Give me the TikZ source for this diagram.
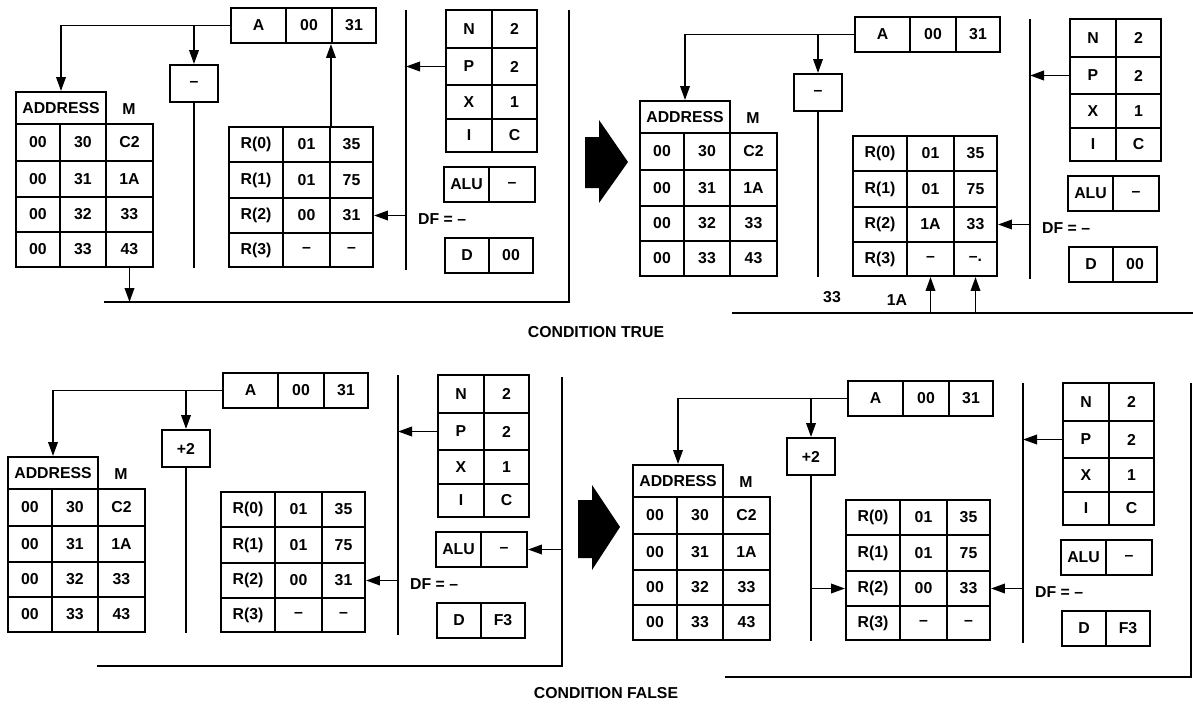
\documentclass[tikz,border=0pt]{standalone}
\usepackage{fontspec}
\setmainfont{Liberation Sans}
\usetikzlibrary{arrows.meta}

\tikzset{
	cellbox/.style={draw, line width=1.1pt, inner sep=0pt},
	wire/.style={line width=1.1pt},
	arr/.style={wire, -{Triangle[length=2.8mm,width=1.9mm]}},
	bus/.style={line width=1.5pt},
}

% one box of a register or table: name, x1, y1, x2, y2, text
\newcommand{\regcell}[6]{%
	\node[cellbox, minimum width={(#4-#2)*0.02cm}, minimum height={(#5-#3)*0.02cm}]
		(#1) at ({(#2+#4)/2},{(#3+#5)/2}) {#6};}

% one machine state: prefix, shift x, shift y, operation, R(2) hi, R(2) lo, R(3) lo, D
\newcommand{\cpustate}[8]{%
	\begin{scope}[shift={(#2,#3)}]
		\regcell{#1aa}{231}{8}{286}{43}{A}
		\regcell{#1ab}{286}{8}{332}{43}{00}
		\regcell{#1ac}{332}{8}{376}{43}{31}
		\regcell{#1op}{170}{65}{218}{102}{#4}
		\coordinate (#1opend) at (194,268);
		% memory
		\regcell{#1hd}{16}{92}{106}{124}{ADDRESS}
		\node (#1m) at (129,109) {M};
		\regcell{#1m0a}{16}{124}{60}{161}{00}
		\regcell{#1m0b}{60}{124}{106}{161}{30}
		\regcell{#1m0c}{106}{124}{153}{161}{C2}
		\regcell{#1m1a}{16}{161}{60}{197}{00}
		\regcell{#1m1b}{60}{161}{106}{197}{31}
		\regcell{#1m1c}{106}{161}{153}{197}{1A}
		\regcell{#1m2a}{16}{197}{60}{232}{00}
		\regcell{#1m2b}{60}{197}{106}{232}{32}
		\regcell{#1m2c}{106}{197}{153}{232}{33}
		\regcell{#1m3a}{16}{232}{60}{267}{00}
		\regcell{#1m3b}{60}{232}{106}{267}{33}
		\regcell{#1m3c}{106}{232}{153}{267}{43}
		% registers
		\regcell{#1r0a}{229}{127}{283}{162}{R(0)}
		\regcell{#1r0b}{283}{127}{330}{162}{01}
		\regcell{#1r0c}{330}{127}{373}{162}{35}
		\regcell{#1r1a}{229}{162}{283}{198}{R(1)}
		\regcell{#1r1b}{283}{162}{330}{198}{01}
		\regcell{#1r1c}{330}{162}{373}{198}{75}
		\regcell{#1r2a}{229}{198}{283}{233}{R(2)}
		\regcell{#1r2b}{283}{198}{330}{233}{#5}
		\regcell{#1r2c}{330}{198}{373}{233}{#6}
		\regcell{#1r3a}{229}{233}{283}{267}{R(3)}
		\regcell{#1r3b}{283}{233}{330}{267}{--}
		\regcell{#1r3c}{330}{233}{373}{267}{#7}
		% N P X I
		\regcell{#1na}{446}{10}{492}{48}{N}
		\regcell{#1nb}{492}{10}{537}{48}{2}
		\regcell{#1pa}{446}{48}{492}{85}{P}
		\regcell{#1pb}{492}{48}{537}{85}{2}
		\regcell{#1xa}{446}{85}{492}{119}{X}
		\regcell{#1xb}{492}{85}{537}{119}{1}
		\regcell{#1ia}{446}{119}{492}{152}{I}
		\regcell{#1ib}{492}{119}{537}{152}{C}
		\regcell{#1alua}{444}{167}{489}{202}{ALU}
		\regcell{#1alub}{489}{167}{535}{202}{--}
		\node[anchor=west] (#1df) at (412,219) {DF = --};
		\regcell{#1da}{445}{238}{489}{273}{D}
		\regcell{#1db}{489}{238}{533}{273}{#8}
		% bus
		\coordinate (#1bt) at (406,10);
		\coordinate (#1bb) at (406,270);
		\draw[bus] (#1bt) -- (#1bb);
		\draw[arr] (#1aa.west) -| (#1hd.north);
		\draw[arr] (#1aa.west -| #1op.north) -- (#1op.north);
		\draw[wire] (#1op.south) -- (#1opend);
		\draw[arr] (#1pa.west) -- (#1pa.west -| #1bt);
		\draw[arr] (#1r2c.east -| #1bt) -- (#1r2c.east);
	\end{scope}}

\begin{document}
\begin{tikzpicture}[x=0.02cm, y=-0.02cm,
		every node/.style={font=\fontsize{9}{11}\selectfont\bfseries}]
	\path[use as bounding box, fill=white] (0,0) rectangle (1193,703);

	\cpustate{p1}{0}{0}{--}{00}{31}{--}{00}
	\cpustate{p2}{624}{9}{--}{1A}{33}{--.}{00}
	\cpustate{p3}{-8}{365}{+2}{00}{31}{--}{F3}
	\cpustate{p4}{617}{373}{+2}{00}{33}{--}{F3}

	% condition true, before
	\coordinate (p1fr) at (569,10);
	\coordinate (p1fc) at (569,302);
	\coordinate (p1fl) at (104,302);
	\draw[bus] (p1fr) -- (p1fc) -- (p1fl);
	\draw[arr] (p1m3c.south) -- (p1m3c.south |- p1fl);
	\draw[arr] (p1r0b.north east) -- (p1r0b.north east |- p1ac.south);

	% condition true, after
	\coordinate (p2bl) at (732,313);
	\coordinate (p2br) at (1193,313);
	\draw[bus] (p2bl) -- (p2br);
	\draw[arr] (p2r3b.south |- p2bl) -- (p2r3b.south);
	\draw[arr] (p2r3c.south |- p2bl) -- (p2r3c.south);
	\node (p2v1) at (832,297) {33};
	\node (p2v2) at (897,300) {1A};

	% condition false, before
	\coordinate (p3fr) at (562,377);
	\coordinate (p3fc) at (562,666);
	\coordinate (p3fl) at (97,666);
	\draw[bus] (p3fr) -- (p3fc) -- (p3fl);
	\draw[arr] (p3alub.east -| p3fr) -- (p3alub.east);

	% condition false, after
	\coordinate (p4fr) at (1191,383);
	\coordinate (p4fc) at (1191,677);
	\coordinate (p4fl) at (725,677);
	\draw[bus] (p4fr) -- (p4fc) -- (p4fl);
	\draw[arr] (p4opend |- p4r2a.west) -- (p4r2a.west);

	% block arrows
	\fill (585,137) -- (599,137) -- (599,120) -- (628,162) -- (599,203) -- (599,188) -- (585,188) -- cycle;
	\fill (578,500) -- (592,500) -- (592,485) -- (620,527) -- (592,570) -- (592,558) -- (578,558) -- cycle;

	\node (ctrue) at (596,332) {CONDITION TRUE};
	\node (cfalse) at (606,693) {CONDITION FALSE};
\end{tikzpicture}
\end{document}
